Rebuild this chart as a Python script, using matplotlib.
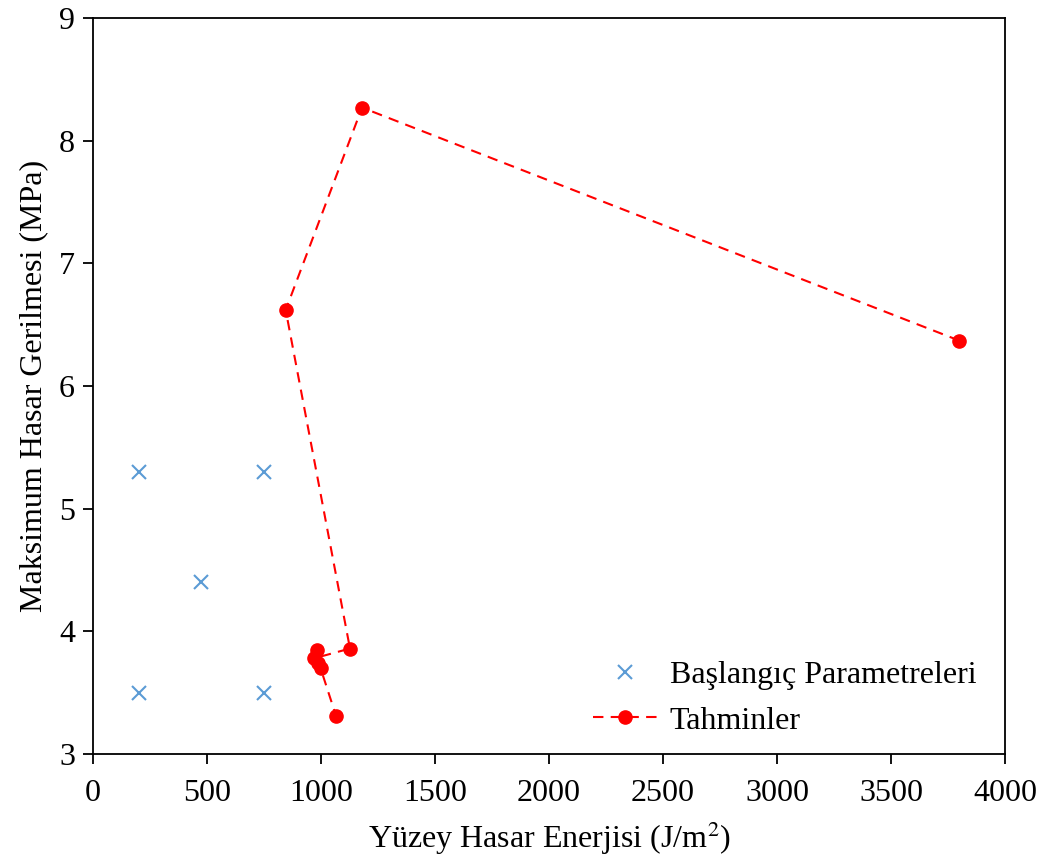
import matplotlib
matplotlib.use("Agg")
import matplotlib.pyplot as plt

plt.rcParams['font.family'] = ['Liberation Serif', 'DejaVu Serif']
plt.rcParams['mathtext.fontset'] = 'stix'

# Initial parameter grid
init_energy = [200, 750, 475, 200, 750]
init_stress = [5.3, 5.3, 4.4, 3.5, 3.5]

# Successive estimates
est_energy = [3800, 1180, 845, 1127, 969, 981, 988, 998, 1066]
est_stress = [6.37, 8.27, 6.62, 3.86, 3.78, 3.85, 3.74, 3.70, 3.31]

fig = plt.figure(figsize=(10.49, 8.59), dpi=100)
ax = fig.add_axes([0.0887, 0.1222, 0.8693, 0.8568])

ax.plot(init_energy, init_stress, linestyle='none', marker='x', color='#5B9BD5',
        markersize=10, markeredgewidth=1.5, label='Başlangıç Parametreleri')
ax.plot(est_energy, est_stress, linestyle=(0, (5, 3.5)), color='#FF0000', linewidth=1.5,
        marker='o', markersize=9.5, label='Tahminler')

ax.set_xlim(0, 4000)
ax.set_ylim(3, 9)
ax.set_xticks(range(0, 4001, 500))
ax.set_yticks(range(3, 10))
ax.tick_params(direction='out', length=7, width=1.3, labelsize=23, pad=6)
ax.tick_params(axis='x', pad=11)
for s in ax.spines.values():
    s.set_linewidth(1.3)

ax.set_xlabel('Yüzey Hasar Enerjisi (J/m$^2$)', fontsize=23, labelpad=8)
ax.set_ylabel('Maksimum Hasar Gerilmesi (MPa)', fontsize=23, labelpad=8)

ax.legend(loc='lower right', frameon=False, fontsize=23, bbox_to_anchor=(1.0, -0.014),
          handlelength=2.0, handletextpad=0.4, labelspacing=0.5)

fig.savefig('out.png', dpi=100)
